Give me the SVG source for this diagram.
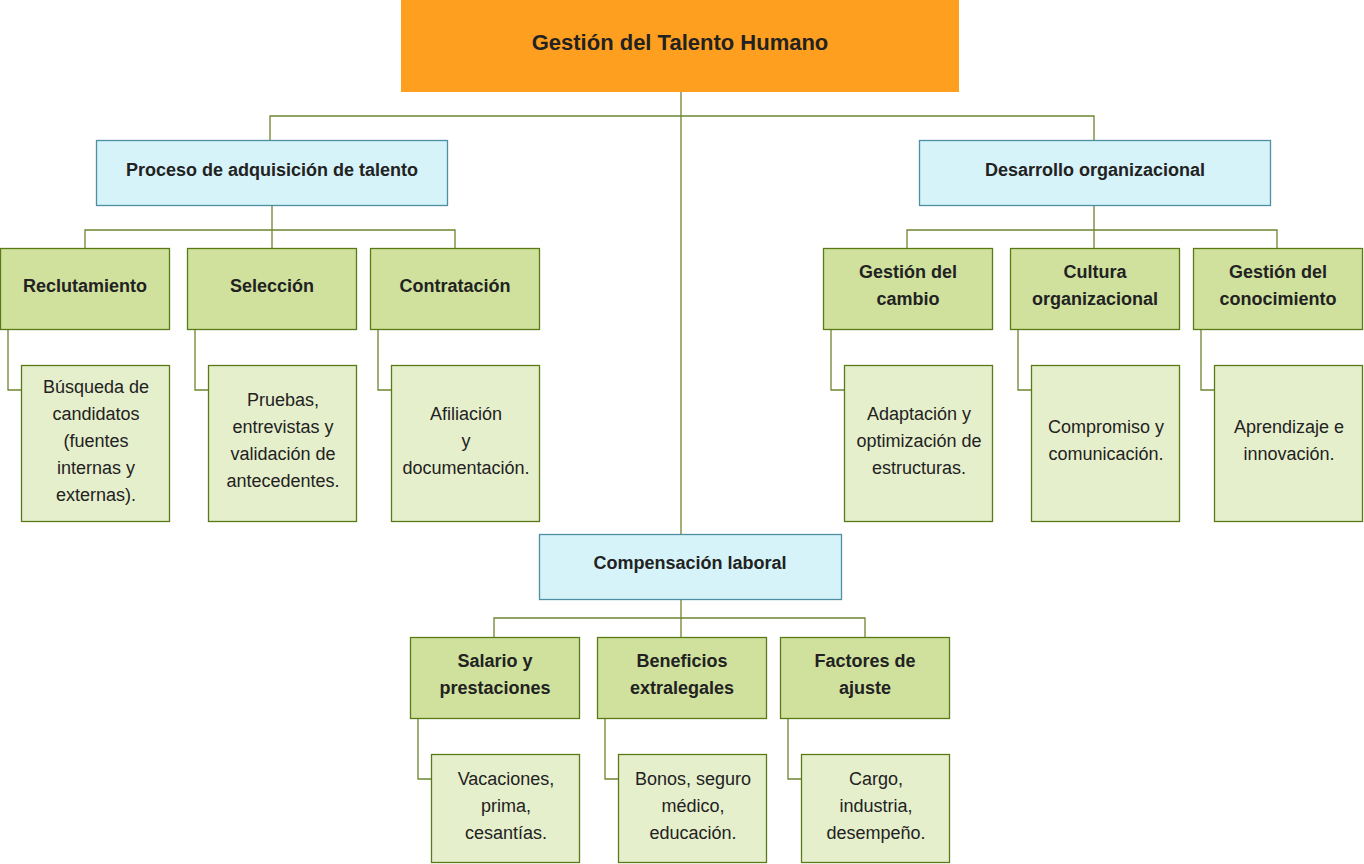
<svg xmlns="http://www.w3.org/2000/svg" width="1364" height="864" viewBox="0 0 1364 864">
<style>
.root{fill:#FF9F1F;stroke:none}
.sec{fill:#D6F3F9;stroke:#4E8FA4;stroke-width:1.3}
.ch{fill:#D0E19E;stroke:#5A7A18;stroke-width:1.3}
.lf{fill:#E6EFCC;stroke:#5A7A18;stroke-width:1.3}
.c{fill:none;stroke:#6E8530;stroke-width:1.3}
text{font-family:"Liberation Sans",Arial,sans-serif;fill:#222;text-anchor:middle;font-size:18px}
.b{font-weight:bold}
.t{font-size:22px;font-weight:bold}
</style>
<rect width="1364" height="864" fill="#fff"/>
<g id="connectors">
<path class="c" d="M681,92 V535"/>
<path class="c" d="M270,140 V116 H1094 V140"/>
<path class="c" d="M272,205 V248 M85,248 V230 H455 V248"/>
<path class="c" d="M1094,205 V248 M907,248 V230 H1277 V248"/>
<path class="c" d="M681,600 V637 M494,637 V618 H865 V637"/>
<path class="c" d="M8,330 V390 H21 M195,330 V390 H208 M378,330 V390 H391"/>
<path class="c" d="M831,330 V390 H844 M1018,330 V390 H1031 M1201,330 V390 H1214"/>
<path class="c" d="M418,719 V779 H431 M605,719 V779 H618 M788,719 V779 H801"/>
</g>
<g id="root"><rect class="root" x="401" y="0" width="558" height="92"/><text class="t" x="680" y="50">Gestión del Talento Humano</text></g>
<g id="proceso"><rect class="sec" x="96.5" y="140.5" width="351" height="65"/><text class="b" x="272" y="175.5">Proceso de adquisición de talento</text></g>
<g id="desarrollo"><rect class="sec" x="919.5" y="140.5" width="351" height="65"/><text class="b" x="1095" y="175.5">Desarrollo organizacional</text></g>
<g id="compensacion"><rect class="sec" x="539.5" y="534.5" width="302" height="65"/><text class="b" x="690" y="568.5">Compensación laboral</text></g>

<g id="reclutamiento"><rect class="ch" x="0.5" y="248.5" width="169" height="81"/><text class="b" x="85" y="291.5">Reclutamiento</text></g>
<g id="seleccion"><rect class="ch" x="187.5" y="248.5" width="169" height="81"/><text class="b" x="272" y="291.5">Selección</text></g>
<g id="contratacion"><rect class="ch" x="370.5" y="248.5" width="169" height="81"/><text class="b" x="455" y="291.5">Contratación</text></g>
<g id="gcambio"><rect class="ch" x="823.5" y="248.5" width="169" height="81"/><text class="b" x="908" y="277.5">Gestión del</text><text class="b" x="908" y="304.5">cambio</text></g>
<g id="cultura"><rect class="ch" x="1010.5" y="248.5" width="169" height="81"/><text class="b" x="1095" y="277.5">Cultura</text><text class="b" x="1095" y="304.5">organizacional</text></g>
<g id="gconocimiento"><rect class="ch" x="1193.5" y="248.5" width="169" height="81"/><text class="b" x="1278" y="277.5">Gestión del</text><text class="b" x="1278" y="304.5">conocimiento</text></g>
<g id="salario"><rect class="ch" x="410.5" y="637.5" width="169" height="81"/><text class="b" x="495" y="666.5">Salario y</text><text class="b" x="495" y="693.5">prestaciones</text></g>
<g id="beneficios"><rect class="ch" x="597.5" y="637.5" width="169" height="81"/><text class="b" x="682" y="666.5">Beneficios</text><text class="b" x="682" y="693.5">extralegales</text></g>
<g id="factores"><rect class="ch" x="780.5" y="637.5" width="169" height="81"/><text class="b" x="865" y="666.5">Factores de</text><text class="b" x="865" y="693.5">ajuste</text></g>

<g id="leaf-reclutamiento"><rect class="lf" x="21.5" y="365.5" width="148" height="156"/><text x="96" y="392.5">Búsqueda de</text><text x="96" y="419.5">candidatos</text><text x="96" y="446.5">(fuentes</text><text x="96" y="473.5">internas y</text><text x="96" y="500.5">externas).</text></g>
<g id="leaf-seleccion"><rect class="lf" x="208.5" y="365.5" width="148" height="156"/><text x="283" y="405.5">Pruebas,</text><text x="283" y="432.5">entrevistas y</text><text x="283" y="459.5">validación de</text><text x="283" y="486.5">antecedentes.</text></g>
<g id="leaf-contratacion"><rect class="lf" x="391.5" y="365.5" width="148" height="156"/><text x="466" y="419.5">Afiliación</text><text x="466" y="446.5">y</text><text x="466" y="473.5">documentación.</text></g>
<g id="leaf-cambio"><rect class="lf" x="844.5" y="365.5" width="148" height="156"/><text x="919" y="419.5">Adaptación y</text><text x="919" y="446.5">optimización de</text><text x="919" y="473.5">estructuras.</text></g>
<g id="leaf-cultura"><rect class="lf" x="1031.5" y="365.5" width="148" height="156"/><text x="1106" y="432.5">Compromiso y</text><text x="1106" y="459.5">comunicación.</text></g>
<g id="leaf-conocimiento"><rect class="lf" x="1214.5" y="365.5" width="148" height="156"/><text x="1289" y="432.5">Aprendizaje e</text><text x="1289" y="459.5">innovación.</text></g>
<g id="leaf-salario"><rect class="lf" x="431.5" y="754.5" width="148" height="108"/><text x="506" y="784.5">Vacaciones,</text><text x="506" y="811.5">prima,</text><text x="506" y="838.5">cesantías.</text></g>
<g id="leaf-beneficios"><rect class="lf" x="618.5" y="754.5" width="148" height="108"/><text x="693" y="784.5">Bonos, seguro</text><text x="693" y="811.5">médico,</text><text x="693" y="838.5">educación.</text></g>
<g id="leaf-factores"><rect class="lf" x="801.5" y="754.5" width="148" height="108"/><text x="876" y="784.5">Cargo,</text><text x="876" y="811.5">industria,</text><text x="876" y="838.5">desempeño.</text></g>
</svg>
